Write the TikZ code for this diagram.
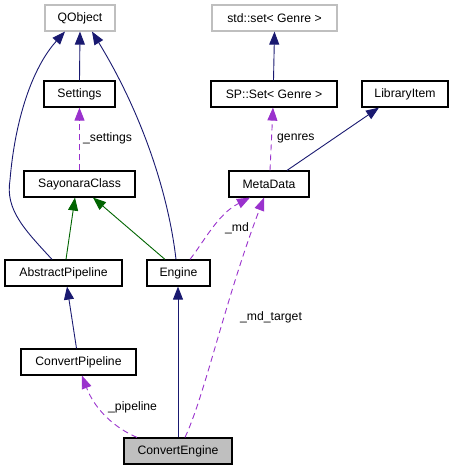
\documentclass[tikz,border=0pt]{standalone}
\usepackage{fontspec}
\setmainfont{Liberation Sans}
\usepackage{tikz}
\usetikzlibrary{
arrows.meta
}
\definecolor{dxblue}{HTML}{191970}
\definecolor{dxgreen}{HTML}{006400}
\definecolor{dxpurple}{HTML}{9A32CD}
\definecolor{dxgray}{HTML}{BFBFBF}

\begin{document}
\begin{tikzpicture}[
  x=1pt, y=-1pt,
  >={Triangle[length=13pt, width=10pt]},
  font=\fontsize{12.2}{14}\selectfont,
  cls/.style={draw=black, line width=1.2pt, minimum height=26pt, inner xsep=6pt, inner ysep=0pt},
  extcls/.style={cls, draw=dxgray},
  focus/.style={cls, fill=dxgray},
  pubinh/.style={->, dxblue, line width=0.9pt},
  protinh/.style={->, dxgreen, line width=0.9pt},
  usage/.style={->, dxpurple, line width=0.9pt, dash pattern=on 6pt off 4pt},
  label/.style={anchor=west, inner sep=0pt}
]
\useasboundingbox (0,0) rectangle (454,471);

% Classes
\node[extcls, minimum width=70pt] (qobject) at (80,18) {QObject};
\node[cls, minimum width=71pt] (settings) at (79.5,94) {Settings};
\node[cls, minimum width=111pt] (sayonara) at (79.5,184) {SayonaraClass};
\node[cls, minimum width=117pt] (abspipe) at (63.5,273) {AbstractPipeline};
\node[cls, minimum width=63pt] (engine) at (178.5,273) {Engine};
\node[cls, minimum width=115pt] (convpipe) at (78.5,362) {ConvertPipeline};
\node[focus, minimum width=108pt] (convengine) at (178,451) {ConvertEngine};
\node[extcls, minimum width=125pt] (stdset) at (274.5,18) {std::set< Genre >};
\node[cls, minimum width=126pt] (spset) at (274,94) {SP::Set< Genre >};
\node[cls, minimum width=86pt] (libitem) at (405,94) {LibraryItem};
\node[cls, minimum width=80pt] (metadata) at (269,184) {MetaData};

% Public inheritance
\draw[pubinh] (settings.north) -- (qobject.south);
\draw[pubinh] ([xshift=-11.5pt]abspipe.north) .. controls (25,230) and (5,210) .. (10,180)
  .. controls (15,120) and (32,68) .. ([xshift=-15pt]qobject.south);
\draw[pubinh] ([xshift=-2.5pt]engine.north) .. controls (168,190) and (140,110) .. ([xshift=12pt]qobject.south);
\draw[pubinh] ([xshift=-2pt]convpipe.north) -- ([xshift=3.5pt]abspipe.south);
\draw[pubinh] (convengine.north) -- (convengine.north |- engine.south);
\draw[pubinh] ([xshift=-0.5pt]spset.north) -- (stdset.south);
\draw[pubinh] ([xshift=18pt]metadata.north) -- ([xshift=-26pt]libitem.south);

% Protected inheritance
\draw[protinh] ([xshift=2.5pt]abspipe.north) -- ([xshift=-4.5pt]sayonara.south);
\draw[protinh] ([xshift=-13.5pt]engine.north) -- ([xshift=13.5pt]sayonara.south);

% Usage
\draw[usage] (sayonara.north) -- (settings.south);
\node[label] (lsettings) at (83,138) {\_settings};
\draw[usage] ([xshift=1pt]metadata.north) -- ([xshift=-1pt]spset.south);
\node[label] (lgenres) at (277,138) {genres};
\draw[usage] ([xshift=11.5pt]engine.north) .. controls (205,240) and (218,214) .. ([xshift=-19pt]metadata.south);
\node[label] (lmd) at (225,228) {\_md};
\draw[usage] ([xshift=7pt]convengine.north) .. controls (205,395) and (225,300) .. ([xshift=-5pt]metadata.south);
\node[label] (lmdtarget) at (240,317) {\_md\_target};
\draw[usage] ([xshift=-41pt]convengine.north) .. controls (115,428) and (95,410) .. ([xshift=3.5pt]convpipe.south);
\node[label] (lpipeline) at (108,407) {\_pipeline};

\end{tikzpicture}
\end{document}
